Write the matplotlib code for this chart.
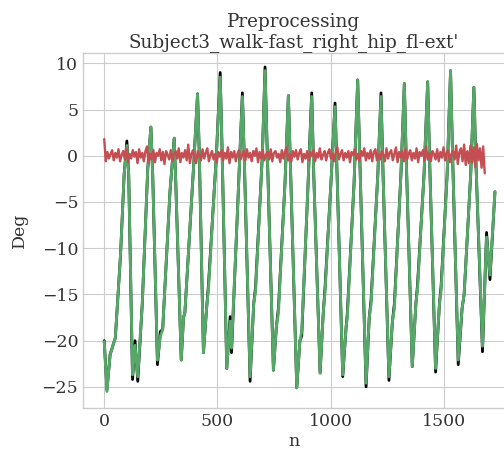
import numpy as np
import matplotlib.pyplot as plt

# 数据：关键点（样本序号 n，角度 Deg）
n_filt = [0, 12, 26, 49, 72, 88, 100, 108, 125, 136, 148, 168, 192, 206, 214,
          235, 248, 258, 290, 309, 316, 340, 350, 356, 395, 412, 420, 438, 452,
          460, 495, 512, 520, 541, 556, 562, 590, 610, 618, 644, 660, 668, 698,
          710, 718, 747, 760, 769, 798, 813, 822, 850, 864, 872, 900, 916, 925,
          953, 967, 975, 1003, 1019, 1028, 1053, 1068, 1073, 1103, 1119, 1128,
          1156, 1170, 1178, 1208, 1222, 1231, 1257, 1272, 1281, 1310, 1325, 1333,
          1360, 1376, 1383, 1412, 1428, 1436, 1463, 1480, 1487, 1514, 1529, 1538,
          1563, 1580, 1589, 1618, 1632, 1640, 1670, 1688, 1703, 1725]
deg_filt = [-20.1, -25.5, -21.5, -19.7, -10.7, -2.0, 1.1, -2.0, -23.7, -20.5,
            -23.9, -16.0, -1.5, 3.1, -2.0, -22.1, -19.5, -18.8, -4.0, 1.9, -3.0,
            -22.1, -17.5, -17.0, -1.0, 6.7, 0.0, -21.3, -16.5, -14.5, 0.0, 8.5,
            1.0, -23.0, -17.9, -20.8, -5.0, 6.4, 0.0, -23.9, -16.0, -14.7, 0.0,
            9.2, 2.0, -23.2, -18.5, -17.0, -3.0, 6.5, -1.0, -25.1, -20.0, -19.0,
            -3.0, 6.4, -2.0, -23.5, -17.0, -14.7, -2.0, 5.3, -2.0, -23.7, -18.5,
            -17.6, -3.0, 8.2, 0.0, -24.6, -17.5, -16.1, -2.0, 6.4, -2.0, -23.9,
            -18.0, -16.5, -2.0, 7.8, 0.0, -22.8, -16.0, -14.5, -2.0, 8.0, 0.0,
            -23.0, -16.0, -14.7, -2.0, 9.2, 0.0, -22.1, -16.5, -15.0, -2.0, 7.4,
            0.0, -20.6, -8.8, -12.9, -3.9]
deg_raw = [-20.0, -25.3, -21.5, -19.7, -10.7, -2.0, 1.6, -2.0, -24.2, -20.0,
           -24.4, -16.0, -1.5, 3.1, -2.0, -22.6, -19.0, -18.8, -4.0, 1.9, -3.0,
           -22.1, -17.5, -17.0, -1.0, 6.7, 0.0, -21.3, -16.5, -14.0, 0.0, 9.0,
           1.0, -23.0, -17.4, -21.3, -5.0, 6.8, 0.0, -24.4, -16.0, -14.2, 0.0,
           9.6, 2.0, -23.2, -18.5, -16.5, -3.0, 6.5, -1.0, -25.1, -20.0, -19.5,
           -3.0, 6.8, -2.0, -23.5, -17.0, -14.2, -2.0, 5.7, -2.0, -23.9, -18.5,
           -17.1, -3.0, 8.2, 0.0, -25.0, -17.5, -15.6, -2.0, 6.8, -2.0, -24.3,
           -18.0, -16.0, -2.0, 7.8, 0.0, -22.8, -16.0, -14.0, -2.0, 8.0, 0.0,
           -23.4, -16.0, -14.2, -2.0, 9.2, 0.0, -22.6, -16.5, -15.0, -2.0, 7.4,
           0.0, -21.2, -8.3, -13.4, -3.9]

# 差值（噪声），每 7 个样本一个值
noise = [1.8, -0.6, 0.4, -0.3, 0.2, 0.6, -0.5, 0.3, -0.2, 0.7,
         -0.6, 0.1, 0.5, -0.4, 0.8, -0.7, 0.2, -0.3, 0.6, -0.1,
         0.4, -0.8, 0.7, -0.2, 0.3, -0.6, 0.5, 1.0, -0.8, 0.2,
         -0.4, 0.6, -0.7, 0.3, 0.0, 0.7, -0.5, 0.4, -0.9, 0.5,
         0.1, -0.4, 0.6, -0.6, 0.2, 0.5, -0.3, 0.8, -0.7, 0.3,
         -0.2, 0.6, -0.5, 1.2, -0.8, 0.2, 0.6, -0.4, -0.8, 0.5,
         0.0, -0.5, 0.7, -0.3, 0.3, 0.8, -0.6, 0.1, 0.5, -0.4,
         0.2, -0.7, 0.4, -0.1, 0.6, -0.5, 0.3, -0.3, 0.9, -0.8,
         0.4, -0.2, 0.5, -0.6, 0.2, 0.6, -0.4, 0.1, 0.5, -0.5,
         0.7, -0.2, 0.3, -0.6, 0.5, 0.0, 0.8, -0.7, 0.4, -0.3,
         0.6, -0.5, 0.1, 0.4, -0.4, 0.7, -0.6, 0.3, 0.5, -0.2,
         0.2, -0.7, 0.6, -0.3, 0.4, 0.9, -0.5, 0.2, -0.6, 0.5,
         -0.1, 0.6, -0.4, 0.3, 0.7, -0.7, 0.2, -0.3, 0.5, -0.5,
         0.4, 0.0, 0.6, -0.6, 0.3, -0.2, 0.8, -0.4, 0.1, 0.5,
         -0.5, 0.3, 0.7, -0.3, 0.2, -0.6, 0.4, 0.9, -0.4, 0.2,
         0.6, -0.5, 0.3, -0.2, 0.5, -0.7, 0.4, 0.1, 0.7, -0.4,
         0.2, -0.6, 0.5, 0.0, 0.8, -0.5, 0.3, -0.3, 0.6, -0.6,
         0.4, 0.7, -0.5, 0.2, -0.4, 0.5, 0.1, -0.6, 0.8, -0.3,
         0.3, 0.6, -0.5, 0.2, 0.9, -0.7, 0.4, -0.2, 0.5, -0.6,
         0.7, -0.4, 0.2, 0.6, -0.5, 0.3, -0.3, 0.8, -0.7, 0.4,
         0.0, 0.6, -0.5, 1.0, -0.4, 0.3, -0.6, 0.5, 0.2, -0.4,
         0.7, -0.6, 0.4, -0.2, 0.9, -0.5, 0.3, 0.6, -0.7, 0.2,
         0.5, -0.4, 1.1, -0.9, 0.4, 0.8, -0.6, 1.2, -1.0, 0.5,
         -0.8, 1.1, -0.7, 0.9, -1.2, 1.3, -0.5, 0.8, -1.3, 1.0,
         -1.9]
n_noise = np.arange(len(noise)) * 7

plt.style.use("seaborn-v0_8-whitegrid")
plt.rcParams["font.family"] = ["DejaVu Serif"]

fig = plt.figure(figsize=(5.04, 4.5), dpi=100)
ax = fig.add_axes([0.165, 0.093, 0.835, 0.789])

ax.plot(n_filt, deg_raw, color="k", lw=2.0)
ax.plot(n_filt, deg_filt, color="#55A868", lw=2.1)
ax.plot(n_noise, noise, color="#C44E52", lw=1.7)

ax.set_xlim(-93, 1765)
ax.set_ylim(-27.3, 11.1)
ax.set_xticks([0, 500, 1000, 1500])
ax.set_yticks([-25, -20, -15, -10, -5, 0, 5, 10])
ax.tick_params(labelsize=12.5, colors="#333333")
ax.spines["right"].set_visible(False)

ax.set_title("Preprocessing\nSubject3_walk-fast_right_hip_fl-ext'", fontsize=13.2,
             color="#333333", pad=4)
ax.set_xlabel("n", fontsize=12.5, color="#333333", labelpad=2)
ax.set_ylabel("Deg", fontsize=12.5, color="#333333", labelpad=10)

fig.savefig("out.png", dpi=100)
